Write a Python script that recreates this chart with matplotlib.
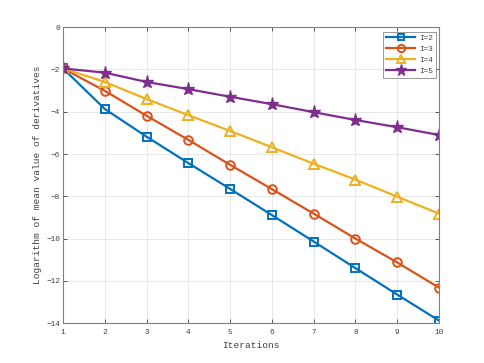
import matplotlib
matplotlib.use("Agg")
import matplotlib.pyplot as plt

iterations = [1, 2, 3, 4, 5, 6, 7, 8, 9, 10]
I2 = [-1.95, -3.87, -5.18, -6.43, -7.65, -8.89, -10.14, -11.40, -12.65, -13.88]
I3 = [-1.95, -3.01, -4.19, -5.33, -6.51, -7.66, -8.82, -10.00, -11.13, -12.32]
I4 = [-1.95, -2.59, -3.40, -4.16, -4.91, -5.68, -6.46, -7.21, -8.02, -8.82]
I5 = [-1.95, -2.15, -2.59, -2.93, -3.29, -3.64, -4.02, -4.39, -4.73, -5.10]
labels = ["I=2", "I=3", "I=4", "I=5"]
xticks = list(range(1, 11))
yticks = list(range(-14, 1, 2))

plt.rcParams['font.family'] = ['Liberation Mono', 'DejaVu Sans Mono']
plt.rcParams['axes.unicode_minus'] = True

fig = plt.figure(figsize=(4.85, 3.63), dpi=100)
ax = fig.add_axes([0.13, 0.11, 0.775, 0.815])

colors = ['#0072BD', '#D95319', '#EDB120', '#7E2F8E']
markers = ['s', 'o', '^', '*']
sizes = [5.6, 6.2, 7.5, 9.5]
series = [I2, I3, I4, I5]
for ys, c, m, ms, lab in zip(series, colors, markers, sizes, labels):
    if m == '*':
        ax.plot(iterations, ys, color=c, lw=1.6, marker=m, ms=ms,
                mfc=c, mec=c, label=lab)
    else:
        ax.plot(iterations, ys, color=c, lw=1.6, marker=m, ms=ms,
                mfc='none', mec=c, mew=1.4, label=lab)

ax.set_xlim(1, 10)
ax.set_ylim(-14, 0)
ax.set_xticks(xticks)
ax.set_yticks(yticks)
ax.grid(True, color='#262626', alpha=0.12, lw=0.6)
ax.tick_params(direction='in', top=True, right=True, length=3, width=0.6,
               colors='#404040', labelsize=5.6, labelcolor='#404040', pad=2.2)
ax.tick_params(axis='x', pad=4.5)
for s in ax.spines.values():
    s.set_color('#808080')
    s.set_linewidth(0.8)
ax.set_xlabel('Iterations', fontsize=6.8, color='#404040', labelpad=3.5)
ax.set_ylabel('Logarithm of mean value of derivatives', fontsize=6.8,
              color='#404040', labelpad=3)

leg = ax.legend(loc='upper right', bbox_to_anchor=(0.993, 0.985),
                fontsize=5.6, frameon=True, fancybox=False,
                edgecolor='#808080', handlelength=3.8, borderpad=0.4,
                labelspacing=0.45, handletextpad=0.5, borderaxespad=0.0,
                markerscale=0.85)
leg.get_frame().set_linewidth(0.7)
for t in leg.get_texts():
    t.set_color('#404040')

fig.savefig('out.png', dpi=100)
